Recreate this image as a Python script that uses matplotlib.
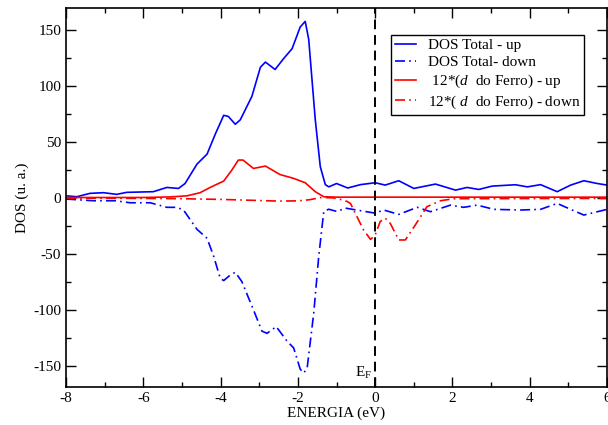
import numpy as np
import matplotlib
matplotlib.use("Agg")
import matplotlib.pyplot as plt
from matplotlib.ticker import MultipleLocator

plt.rcParams['font.family'] = ['Liberation Serif', 'DejaVu Serif']
plt.rcParams['mathtext.fontset'] = 'custom'
plt.rcParams['mathtext.rm'] = 'Liberation Serif'
plt.rcParams['mathtext.it'] = 'Liberation Serif:italic'
plt.rcParams['axes.unicode_minus'] = False

# DOS total, spin up
e_tot_up = [-8.0, -7.72, -7.38, -7.03, -6.69, -6.43, -5.74, -5.39, -5.09, -4.92,
            -4.61, -4.35, -4.14, -3.92, -3.80, -3.62, -3.49, -3.19, -2.97, -2.84,
            -2.59, -2.37, -2.15, -1.94, -1.81, -1.72, -1.55, -1.42, -1.29, -1.20,
            -1.00, -0.71, -0.38, 0.0, 0.26, 0.61, 1.00, 1.56, 2.08, 2.38,
            2.68, 3.03, 3.63, 3.94, 4.28, 4.71, 5.06, 5.40, 5.75, 6.0]
dos_tot_up = [2, 1.2, 4.2, 4.8, 3.3, 5.1, 5.7, 9.5, 8.6, 13,
              30.4, 39.3, 57, 74, 73, 66, 70, 91, 117, 121.6,
              115, 124.7, 133.6, 153, 158, 142, 70, 28, 12, 10,
              13, 9, 12, 13.7, 11.6, 15.5, 8.6, 12.5, 7.1, 9.5,
              7.7, 10.7, 11.9, 10, 12, 5.7, 11.6, 15.5, 13, 11.6]

# DOS total, spin down
e_tot_dn = [-8.0, -7.29, -6.73, -6.34, -5.82, -5.39, -5.13, -4.96, -4.61, -4.35,
            -4.18, -4.01, -3.92, -3.75, -3.62, -3.45, -3.15, -2.93, -2.80, -2.56,
            -2.28, -2.11, -1.94, -1.85, -1.76, -1.59, -1.46, -1.33, -1.20, -0.99,
            -0.77, -0.38, 0.0, 0.22, 0.61, 1.09, 1.43, 1.95, 2.29, 2.64,
            3.07, 3.76, 4.28, 4.71, 5.06, 5.40, 6.0]
dos_tot_dn = [-0.9, -2.4, -2.4, -4.2, -4.2, -8.3, -8.3, -10.7, -28, -36,
              -52, -71.7, -73.8, -68.8, -66.4, -74.7, -100, -119, -121, -115,
              -128, -134, -153, -156.5, -152, -103, -52, -12, -10, -12,
              -9, -11.3, -13.5, -10.7, -14.6, -8.3, -12.2, -6.3, -8.3, -6.3,
              -10.1, -10.7, -10.1, -4.8, -10.1, -15.2, -10.1]

# 12 x d do Ferro, spin up
e_fe_up = [-8.0, -6.0, -5.32, -4.87, -4.53, -4.27, -3.92, -3.71, -3.54, -3.42,
           -3.15, -2.84, -2.46, -2.11, -1.81, -1.55, -1.33, -1.0, 6.0]
dos_fe_up = [0.5, 0.5, 1.0, 2.0, 4.8, 9.5, 15.2, 25, 34, 34,
             26.5, 28.6, 21, 17.6, 13.7, 5.7, 1.2, 0.8, 0.8]

# 12 x d do Ferro, spin down
e_fe_dn = [-8.0, -6.0, -5.0, -4.0, -3.0, -2.5, -2.0, -1.7, -1.4, -1.1,
           -0.9, -0.73, -0.64, -0.47, -0.30, -0.12, 0.0, 0.13, 0.26, 0.39,
           0.61, 0.78, 1.04, 1.34, 1.69, 2.03, 6.0]
dos_fe_dn = [0, -0.3, -0.6, -1.2, -2.2, -2.7, -2.5, -1.5, 0.5, 0.2,
             -1.2, -3, -4.8, -16.7, -28.6, -37, -33, -21, -18, -22.6,
             -37.5, -37.5, -24, -7.7, -2.4, -0.6, -0.3]

labels = ['DOS Total - up', 'DOS Total- down',
          r' 12*($\mathit{d}$  do Ferro) - up', r'12*( $\mathit{d}$  do Ferro) - down']

fig = plt.figure(figsize=(6.08, 4.25), dpi=100)
ax = fig.add_axes([0.1086, 0.0894, 0.8898, 0.8918])

dashdot = (0, (6, 2.5, 1, 2.5))
ax.plot(e_tot_up, dos_tot_up, color='#0000ff', lw=1.2, label=labels[0])
ax.plot(e_tot_dn, dos_tot_dn, color='#0000ff', lw=1.2, ls=dashdot, label=labels[1])
ax.plot(e_fe_up, dos_fe_up, color='#ff0000', lw=1.2, label=labels[2])
ax.plot(e_fe_dn, dos_fe_dn, color='#ff0000', lw=1.2, ls=dashdot, label=labels[3])

# nivel de Fermi
ax.axvline(0, color='black', lw=1.4, ls=(0, (5, 3)))
ax.text(-0.52, -160, r'E$_\mathregular{F}$', fontsize=11)

ax.set_xlim(-8, 6)
ax.set_ylim(-169, 170)
ax.xaxis.set_major_locator(MultipleLocator(2))
ax.xaxis.set_minor_locator(MultipleLocator(1))
ax.yaxis.set_major_locator(MultipleLocator(50))
ax.yaxis.set_minor_locator(MultipleLocator(25))
ax.tick_params(which='both', direction='in', top=True, right=True, width=1.0,
               labelsize=11)
ax.tick_params(which='major', length=7.5)
ax.tick_params(which='minor', length=3.6)
for s in ax.spines.values():
    s.set_linewidth(1.2)

ax.set_xlabel('ENERGIA (eV)', fontsize=11, labelpad=1)
ax.set_ylabel('DOS (u. a.)', fontsize=11, labelpad=3)

leg = ax.legend(loc='upper left', bbox_to_anchor=(0.601, 0.929), fontsize=11,
                handlelength=1.4, labelspacing=0.22, fancybox=False,
                edgecolor='black', framealpha=1, borderaxespad=0,
                borderpad=0.25, handletextpad=0.75)
leg.get_frame().set_linewidth(1.0)

fig.savefig('out.png', dpi=100)
